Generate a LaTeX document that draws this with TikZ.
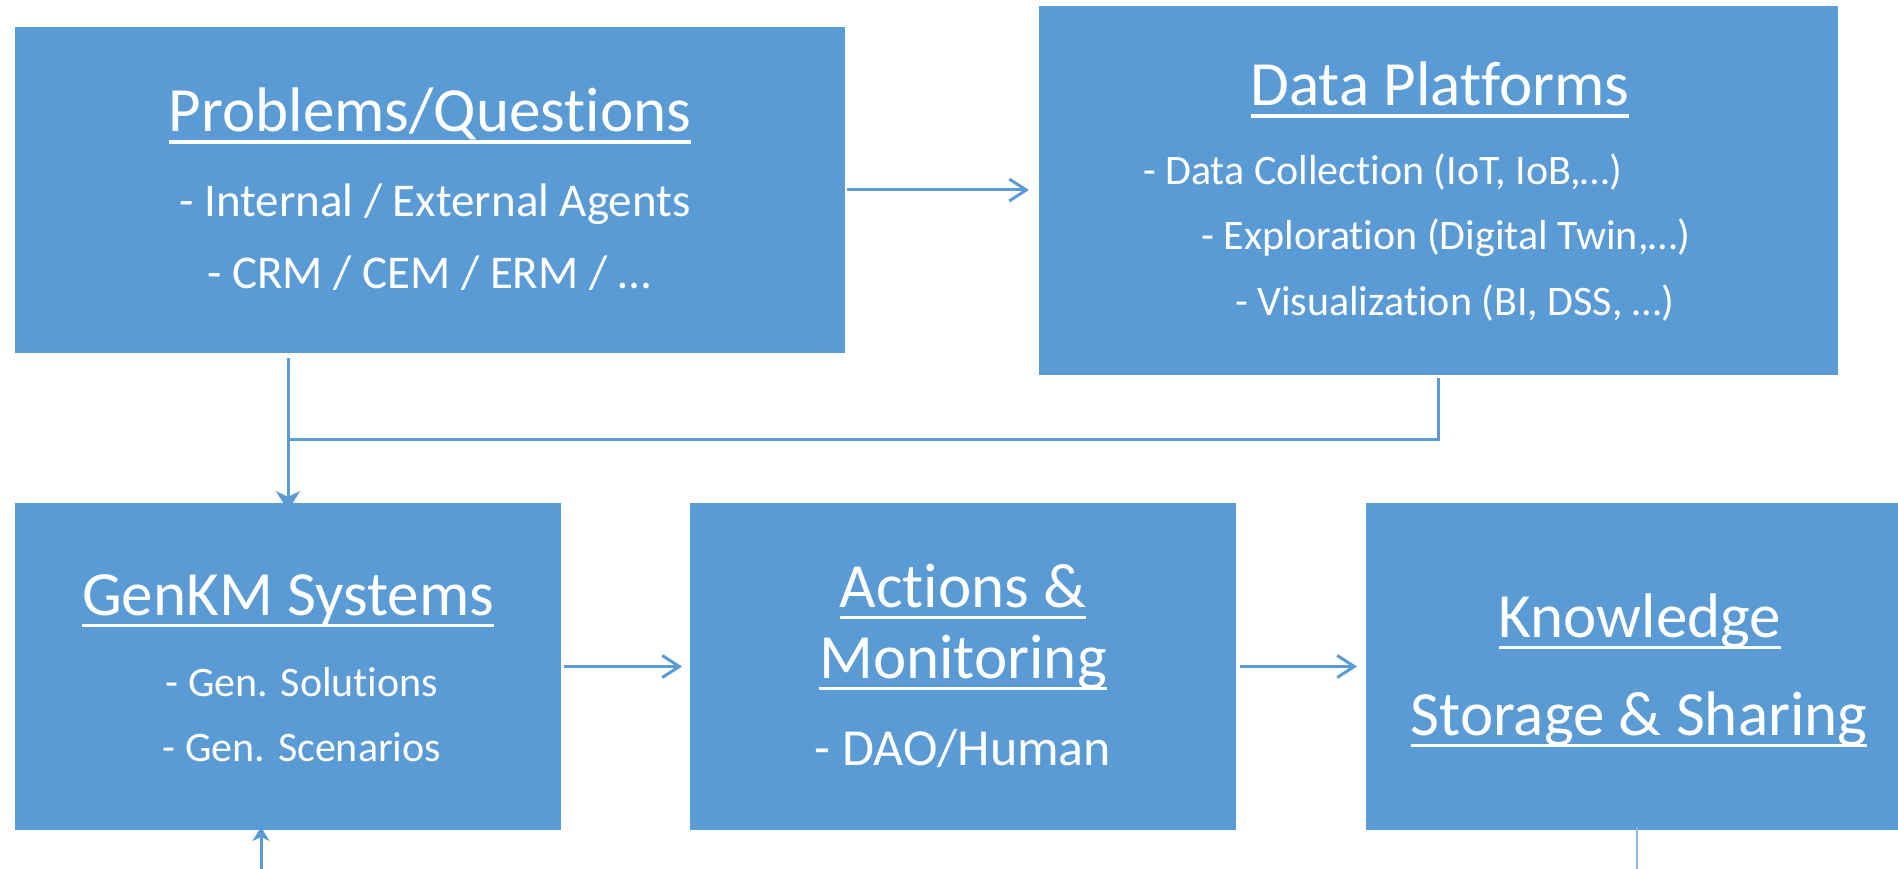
\documentclass[tikz,border=0pt]{standalone}
\usepackage{fontspec}
\setmainfont{Carlito}[Ligatures={NoCommon}]
\usetikzlibrary{arrows.meta}
\definecolor{boxblue}{HTML}{5B9BD5}
\definecolor{lineblue}{HTML}{5B9BD5}
\definecolor{paleblue}{HTML}{8DB6E0}
\newcommand{\ulx}[1]{\setbox0\hbox{#1}\rlap{\rule[-12pt]{\wd0}{3.5pt}}\box0}
\tikzset{
  box/.style={fill=boxblue, draw=none, inner sep=0pt, outer sep=0pt},
  txt/.style={text=white, inner sep=0pt, outer sep=0pt},
  title/.style={txt, font=\fontsize{63}{70}\selectfont},
  conn/.style={draw=lineblue, line width=3pt},
  openarr/.style={conn, -{Straight Barb[length=17pt,width=22pt,line width=3pt]}},
  fillarr/.style={conn, -{Stealth[length=20pt,width=24pt,inset=6pt]}},
  smallarr/.style={conn, -{Stealth[length=14pt,width=17pt,inset=4pt]}},
}
\begin{document}
\begin{tikzpicture}[x=1pt,y=-1pt]
\useasboundingbox (0,0) rectangle (1898,869);
% boxes
\node[box, minimum width=830pt, minimum height=326pt] (prob) at (430,190) {};
\node[box, minimum width=799pt, minimum height=369pt] (data) at (1438.5,190.5) {};
\node[box, minimum width=546pt, minimum height=327pt] (genkm) at (288,666.5) {};
\node[box, minimum width=546pt, minimum height=327pt] (act) at (963,666.5) {};
\node[box, minimum width=532pt, minimum height=327pt] (know) at (1632,666.5) {};
% texts: Problems
\node[title, anchor=base] (probT) at (430,132) {\ulx{Problems/Questions}};
\node[txt, anchor=base, font=\fontsize{47}{52}\selectfont] (probA) at (435,217) {- Internal / External Agents};
\node[txt, anchor=base, font=\fontsize{47}{52}\selectfont] (probB) at (429,288) {- CRM / CEM / ERM / …};
% Data Platforms
\node[title, anchor=base] (dataT) at (1440,106) {\ulx{Data Platforms}};
\node[txt, anchor=base west, font=\fontsize{42}{46}\selectfont] (dataA) at (1143,185) {- Data Collection (IoT, IoB,…)};
\node[txt, anchor=base west, font=\fontsize{42}{46}\selectfont] (dataB) at (1201.5,250) {- Exploration (Digital Twin,…)};
\node[txt, anchor=base west, font=\fontsize{42}{46}\selectfont] (dataC) at (1235,315) {- Visualization (BI, DSS, …)};
% GenKM
\node[title, anchor=base] (genT) at (288,615) {\ulx{GenKM Systems}};
\node[txt, anchor=base, font=\fontsize{42}{46}\selectfont] (genA) at (302,696) {- Gen. Solutions};
\node[txt, anchor=base, font=\fontsize{42}{46}\selectfont] (genB) at (302,761) {- Gen. Scenarios};
% Actions
\node[title, anchor=base] (actT1) at (963,607) {\ulx{Actions \&}};
\node[title, anchor=base] (actT2) at (963,678) {\ulx{Monitoring}};
\node[txt, anchor=base, font=\fontsize{52}{58}\selectfont] (actA) at (963,765) {- DAO/Human};
% Knowledge
\node[title, anchor=base] (knT1) at (1640,637) {\ulx{Knowledge}};
\node[title, anchor=base] (knT2) at (1639,735) {\ulx{Storage \& Sharing}};
% connectors
\coordinate (j) at (288,439);
\coordinate (b1) at (261,869);
\coordinate (b2) at (1637,869);
\draw[openarr] ([xshift=2pt]prob.east) -- ([xshift=-10pt]data.west |- prob.east);
\draw[conn] ([yshift=-5pt]prob.south -| genkm.north) -- (j);
\draw[fillarr] (j) -- ([yshift=-8pt]genkm.north);
\draw[conn] ([yshift=-3pt]data.south) |- (j);
\draw[openarr] ([xshift=3pt]genkm.east) -- ([xshift=-8pt]act.west);
\draw[openarr] ([xshift=4pt]act.east) -- ([xshift=-9pt]know.west);
\draw[smallarr] (b1) -- ([yshift=3pt]genkm.south -| b1);
\draw[draw=paleblue, line width=2pt] ([yshift=2pt]know.south -| b2) -- (b2);
\end{tikzpicture}
\end{document}
